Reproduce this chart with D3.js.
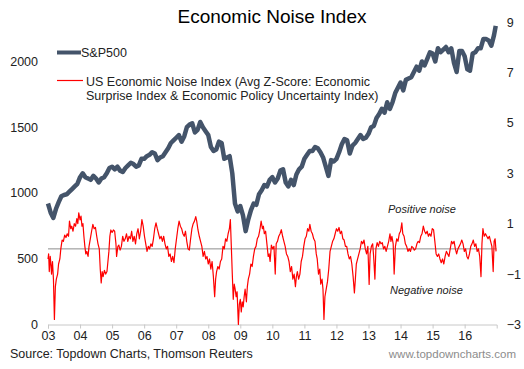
<!DOCTYPE html>
<html><head><meta charset="utf-8">
<script src="https://cdn.jsdelivr.net/npm/d3@7"></script>
<style>
html,body{margin:0;padding:0;background:#fff;}
svg{display:block;font-family:"Liberation Sans",Arial,sans-serif;}
</style></head>
<body>
<svg id="c" width="524" height="369"></svg>
<script>
// ---- Data ----
const yearTicks = [2003,2004,2005,2006,2007,2008,2009,2010,2011,2012,2013,2014,2015,2016];
const leftTicks = [0,500,1000,1500,2000];
const rightTicks = [-3,-1,1,3,5,7,9];

// S&P500, monthly (month starts from Jan 2003), plus final point
const spxStart = 2003;
const spxValues = [
 920,850,810,880,930,975,985,990,1010,1030,1050,1070,
 1120,1150,1120,1110,1100,1130,1110,1080,1110,1120,1150,1190,
 1200,1180,1200,1170,1160,1190,1210,1230,1220,1200,1210,1260,
 1260,1280,1290,1310,1300,1250,1270,1280,1310,1340,1380,1400,
 1420,1440,1390,1430,1500,1520,1530,1460,1480,1540,1500,1470,
 1440,1350,1320,1330,1390,1380,1260,1270,1280,1150,920,860,
 900,830,710,800,870,920,910,990,1020,1060,1050,1100,
 1120,1080,1110,1170,1180,1080,1050,1100,1060,1140,1180,1200,
 1260,1290,1320,1320,1350,1340,1310,1270,1200,1130,1250,1240,
 1260,1310,1370,1410,1400,1300,1360,1380,1410,1440,1410,1420,
 1450,1500,1510,1570,1600,1640,1610,1690,1640,1690,1760,1800,
 1840,1780,1860,1870,1880,1920,1960,1930,2000,1970,2020,2070,
 2060,2000,2100,2070,2090,2110,2070,2100,1990,1920,2080,2080,
 2040,1940,1930,2060,2070,2100,2100,2170,2170,2160,2120,2200,
 2270
];

// US Economic Noise Index
const noiseYears = [
 2003.00,2003.02,2003.04,2003.07,2003.09,2003.11,2003.14,2003.17,2003.20,2003.23,2003.26,2003.30,2003.33,2003.37,2003.40,2003.44,2003.48,2003.52,2003.56,2003.60,2003.64,2003.67,2003.71,2003.74,2003.78,2003.82,2003.86,2003.90,2003.93,2003.96,
 2004.00,2004.03,2004.06,2004.09,2004.12,2004.15,2004.18,2004.21,2004.25,2004.28,2004.32,2004.36,2004.40,2004.44,2004.48,2004.52,2004.56,2004.60,2004.63,2004.66,2004.69,2004.72,2004.76,2004.80,2004.84,2004.87,2004.90,2004.93,2004.96,
 2005.00,2005.04,2005.08,2005.12,2005.14,2005.18,2005.21,2005.25,2005.29,2005.33,2005.37,2005.41,2005.45,2005.49,2005.53,2005.57,2005.61,2005.65,2005.69,2005.73,2005.77,2005.81,2005.85,2005.89,2005.93,2005.97,
 2006.01,2006.05,2006.09,2006.13,2006.17,2006.21,2006.25,2006.29,2006.33,2006.37,2006.41,2006.45,2006.49,2006.53,2006.57,2006.61,2006.65,2006.69,2006.73,2006.77,2006.81,2006.85,2006.89,2006.93,2006.97,
 2007.01,2007.05,2007.09,2007.13,2007.17,2007.21,2007.25,2007.29,2007.33,2007.37,2007.41,2007.45,2007.49,2007.53,2007.57,2007.61,2007.64,2007.68,2007.72,2007.76,2007.80,2007.84,2007.88,2007.92,2007.96,
 2008.00,2008.04,2008.08,2008.12,2008.16,2008.20,2008.23,2008.26,2008.30,2008.34,2008.38,2008.42,2008.46,2008.50,2008.54,2008.58,2008.62,2008.66,2008.69,2008.72,2008.75,2008.78,2008.81,2008.84,2008.87,2008.90,2008.94,2008.97,
 2009.00,2009.03,2009.06,2009.09,2009.12,2009.15,2009.19,2009.22,2009.25,2009.29,2009.33,2009.37,2009.41,2009.45,2009.49,2009.53,2009.57,2009.61,2009.65,2009.69,2009.72,2009.75,2009.79,2009.83,2009.87,2009.90,2009.93,2009.97,
 2010.01,2010.05,2010.09,2010.12,2010.16,2010.20,2010.24,2010.28,2010.32,2010.36,2010.40,2010.44,2010.48,2010.52,2010.56,2010.60,2010.64,2010.68,2010.72,2010.75,2010.78,2010.82,2010.86,2010.90,2010.94,2010.98,
 2011.02,2011.06,2011.10,2011.14,2011.17,2011.21,2011.25,2011.29,2011.33,2011.37,2011.40,2011.44,2011.48,2011.51,2011.55,2011.58,2011.61,2011.64,2011.68,2011.72,2011.76,2011.80,2011.84,2011.88,2011.92,2011.96,
 2012.00,2012.04,2012.08,2012.12,2012.16,2012.20,2012.24,2012.28,2012.32,2012.36,2012.40,2012.44,2012.48,2012.52,2012.56,2012.59,2012.62,2012.66,2012.70,2012.74,2012.78,2012.82,2012.86,2012.90,2012.94,2012.98,
 2013.02,2013.05,2013.09,2013.13,2013.16,2013.20,2013.23,2013.27,2013.31,2013.35,2013.39,2013.43,2013.47,2013.51,2013.55,2013.59,2013.63,2013.67,2013.70,2013.73,2013.77,2013.80,2013.84,2013.88,2013.92,2013.96,
 2014.00,2014.04,2014.07,2014.11,2014.15,2014.19,2014.23,2014.27,2014.31,2014.35,2014.39,2014.43,2014.47,2014.51,2014.55,2014.59,2014.63,2014.67,2014.71,2014.75,2014.79,2014.83,2014.87,2014.91,2014.95,2014.99,
 2015.03,2015.07,2015.11,2015.15,2015.19,2015.23,2015.27,2015.31,2015.35,2015.39,2015.43,2015.47,2015.51,2015.55,2015.59,2015.63,2015.67,2015.71,2015.75,2015.79,2015.83,2015.87,2015.91,2015.95,2015.99,
 2016.03,2016.07,2016.11,2016.15,2016.19,2016.23,2016.27,2016.31,2016.35,2016.39,2016.43,2016.47,2016.51,2016.54,2016.57,2016.61,2016.65,2016.69,2016.73,2016.77,2016.81,2016.85,2016.89,2016.92,2016.95,2016.98
];
const noiseValues = [
 -0.4,-0.2,-0.9,-0.3,-0.6,-1.0,-0.5,-1.2,-2.8,-1.5,-1.2,-1.0,-0.6,-0.4,0.0,0.35,0.3,0.55,0.45,0.6,0.5,1.1,0.8,0.9,0.7,1.0,0.9,1.2,1.0,1.43,
 1.15,1.3,0.9,1.0,0.5,0.1,-0.2,-0.1,-0.3,0.1,0.4,0.7,0.97,0.8,0.85,0.5,0.2,0.0,-0.8,-1.35,-0.9,-1.1,-0.85,-1.0,-0.9,-0.5,-0.1,0.5,0.75,
 0.65,0.75,0.7,0.2,-0.3,0.1,0.15,-0.05,0.1,0.5,0.3,0.4,0.6,0.3,0.5,0.4,0.7,0.3,0.5,0.2,0.6,0.8,0.4,0.7,1.16,0.9,
 0.5,0.2,-0.1,0.1,0.0,0.2,0.1,0.4,0.8,1.03,0.8,0.6,0.4,0.5,0.3,0.5,0.2,0.0,0.1,-0.3,-0.2,-0.5,-0.3,-0.55,0.0,
 0.4,0.8,1.1,0.9,0.8,0.6,0.5,0.7,0.3,0.0,-0.05,0.4,0.8,1.0,1.1,1.28,1.1,0.75,0.5,0.3,0.1,-0.3,-0.1,-0.4,-0.3,
 -0.6,-0.4,-0.8,-0.5,-1.1,-1.9,-1.2,-0.9,-0.7,-0.8,-0.5,-0.4,0.1,0.0,0.4,0.3,0.6,0.8,1.16,0.1,-1.0,-2.0,-1.4,-1.6,-1.9,-1.7,-3.0,-2.2,
 -2.0,-2.5,-2.1,-2.3,-1.9,-1.6,-2.1,-1.5,-1.2,-1.0,-0.6,-0.7,-0.3,0.0,0.1,0.4,0.5,0.75,1.1,0.8,0.9,0.6,0.7,0.2,-0.3,-0.2,-0.5,0.15,
 0.0,0.1,-1.0,0.2,0.3,0.5,0.6,0.76,0.5,0.3,0.1,-0.2,-0.3,-0.5,-0.9,-0.7,-1.2,-1.0,-1.5,-1.1,-0.9,-1.2,-1.0,-0.5,-0.3,0.1,
 0.4,0.5,0.8,0.7,0.97,0.7,0.6,0.4,0.3,-0.2,-0.4,-1.0,-0.8,-1.4,-1.2,-1.6,-2.8,-1.9,-1.6,-1.3,-0.8,-0.1,0.1,0.3,0.4,0.6,
 0.8,0.7,0.85,0.6,0.7,0.4,0.35,0.1,0.1,-0.2,-0.4,-0.3,-0.6,-1.1,-1.75,-1.2,-0.6,-0.4,-0.2,0.0,0.3,0.2,0.35,0.0,-0.2,0.1,
 -1.41,-0.2,0.1,0.2,-0.3,-1.2,0.0,0.25,0.1,0.3,0.2,0.25,0.0,0.1,-0.1,0.1,0.3,0.6,0.3,0.5,0.2,-1.0,0.1,0.4,0.3,0.6,
 0.7,1.03,0.6,0.5,0.2,0.1,-0.1,0.0,-0.1,0.1,0.05,-0.05,0.0,0.2,0.3,0.25,0.5,0.6,0.9,0.7,0.6,0.7,0.5,0.6,0.5,0.8,
 0.76,0.3,-0.2,-0.3,-0.2,-0.4,-0.55,-0.4,-0.6,-0.3,-0.1,-0.2,-0.3,0.0,0.3,0.2,0.3,0.0,-0.2,0.0,0.1,0.2,0.35,0.2,-0.1,
 0.0,-0.3,-0.4,-0.2,0.1,0.2,0.35,0.1,0.2,-0.1,0.0,-0.3,-1.1,0.2,0.8,0.5,0.6,0.5,0.4,0.5,0.3,0.1,-0.9,0.3,0.4,-0.1
];

// ---- Chart ----
const svg = d3.select("#c");
const x = d3.scaleLinear().domain([2003, 2017]).range([48, 496.7]);
const yL = d3.scaleLinear().domain([0, 2300]).range([324.5, 22]);
const yR = d3.scaleLinear().domain([-3, 9]).range([324.5, 22]);

const spx = spxValues.map((v, i) => ({t: i < 168 ? spxStart + i / 12 : 2016.97, v}));
const noise = d3.zip(noiseYears, noiseValues).map(([t, v]) => ({t, v}));

// Title
svg.append("text").attr("x", 272).attr("y", 23).attr("text-anchor", "middle")
  .attr("font-size", 19).attr("fill", "#000").text("Economic Noise Index");

// X axis
const xAxis = svg.append("g").attr("transform", "translate(0,324.5)")
  .call(d3.axisBottom(x).tickValues(yearTicks).tickSize(4).tickPadding(3)
    .tickFormat(d => String(d).slice(2)));
xAxis.select(".domain").attr("stroke", "#c8c8c8");
xAxis.selectAll(".tick line").attr("stroke", "#c8c8c8");
xAxis.selectAll("text").attr("font-size", 12.5).attr("fill", "#222")
  .attr("font-family", "Liberation Sans, Arial, sans-serif");

// Left axis
const lAxis = svg.append("g").attr("transform", "translate(48,0)")
  .call(d3.axisLeft(yL).tickValues(leftTicks).tickSize(0).tickPadding(10).tickFormat(d3.format("d")));
lAxis.select(".domain").remove();
lAxis.selectAll("text").attr("font-size", 12.5).attr("fill", "#222")
  .attr("font-family", "Liberation Sans, Arial, sans-serif");

// Right axis
const rAxis = svg.append("g").attr("transform", "translate(496.7,0)")
  .call(d3.axisRight(yR).tickValues(rightTicks).tickSize(0).tickPadding(10).tickFormat(d3.format("d")));
rAxis.select(".domain").remove();
rAxis.selectAll("text").attr("font-size", 12.5).attr("fill", "#222")
  .attr("font-family", "Liberation Sans, Arial, sans-serif");

// Zero line
svg.append("line").attr("x1", x(2003)).attr("x2", x(2017))
  .attr("y1", yR(0)).attr("y2", yR(0)).attr("stroke", "#8c8c8c").attr("stroke-width", 1);

// Noise line
svg.append("path").datum(noise)
  .attr("fill", "none").attr("stroke", "#ff0000").attr("stroke-width", 1.2)
  .attr("stroke-linejoin", "round")
  .attr("d", d3.line().x(d => x(d.t)).y(d => yR(d.v)));

// S&P line
svg.append("path").datum(spx)
  .attr("fill", "none").attr("stroke", "#44546a").attr("stroke-width", 4.5)
  .attr("stroke-linejoin", "round")
  .attr("d", d3.line().x(d => x(d.t)).y(d => yL(d.v)));

// Legend
svg.append("line").attr("x1", 57).attr("x2", 81).attr("y1", 52.5).attr("y2", 52.5)
  .attr("stroke", "#44546a").attr("stroke-width", 4);
svg.append("text").attr("x", 81).attr("y", 57).attr("font-size", 12.5).attr("fill", "#222").text("S&P500");
svg.append("line").attr("x1", 57).attr("x2", 83).attr("y1", 80.5).attr("y2", 80.5)
  .attr("stroke", "#ff0000").attr("stroke-width", 1.2);
svg.append("text").attr("x", 86).attr("y", 85.5).attr("font-size", 12.5).attr("fill", "#222")
  .text("US Economic Noise Index (Avg Z-Score: Economic");
svg.append("text").attr("x", 86).attr("y", 99.5).attr("font-size", 12.5).attr("fill", "#222")
  .text("Surprise Index & Economic Policy Uncertainty Index)");

// Annotations
svg.append("text").attr("x", 388).attr("y", 213).attr("font-size", 11).attr("font-style", "italic")
  .attr("fill", "#222").text("Positive noise");
svg.append("text").attr("x", 390).attr("y", 294).attr("font-size", 11).attr("font-style", "italic")
  .attr("fill", "#222").text("Negative noise");

// Footer
svg.append("text").attr("x", 10).attr("y", 358).attr("font-size", 12.5).attr("fill", "#222")
  .text("Source: Topdown Charts, Thomson Reuters");
svg.append("text").attr("x", 516).attr("y", 358).attr("text-anchor", "end").attr("font-size", 11.5)
  .attr("fill", "#8c8c8c").text("www.topdowncharts.com");
</script>
</body></html>
